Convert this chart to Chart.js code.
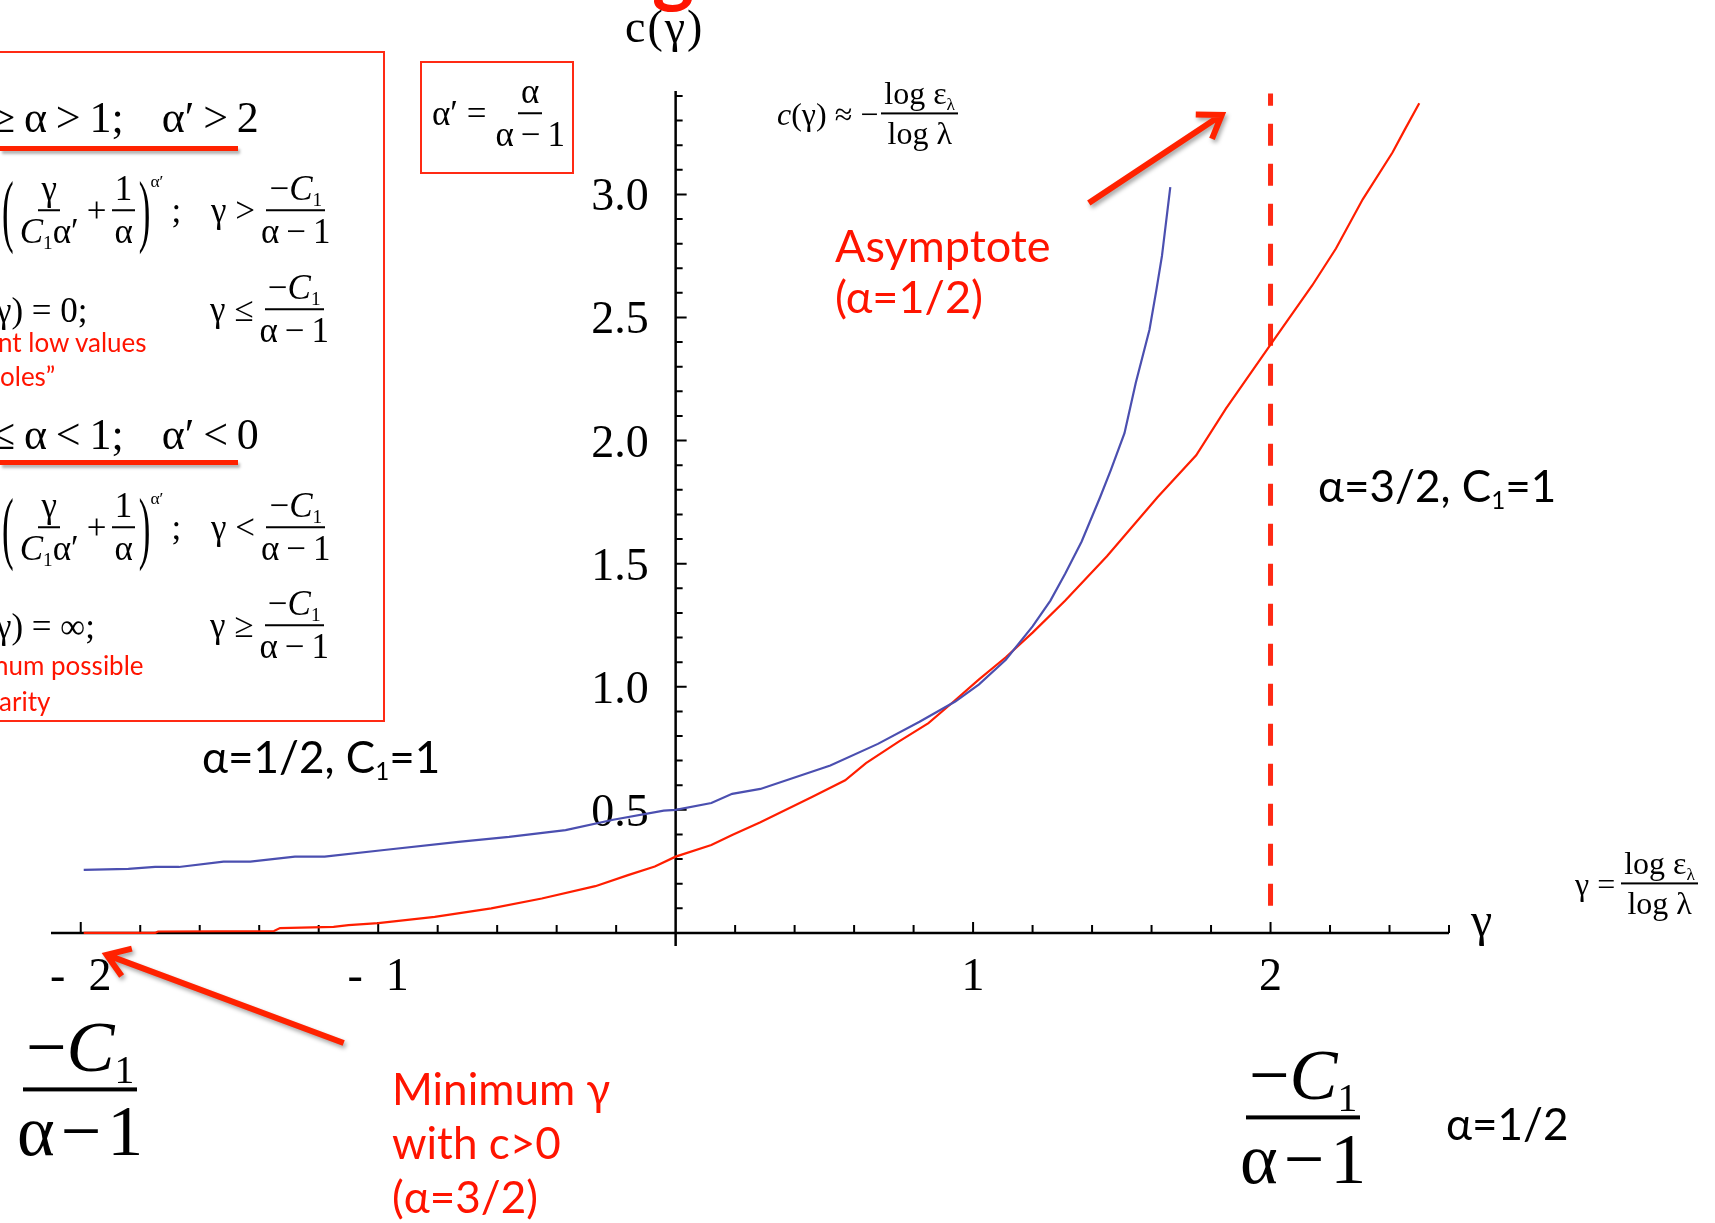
<!DOCTYPE html>
<html>
<head>
<meta charset="utf-8">
<script src="https://cdn.jsdelivr.net/npm/chart.js@4.4.1/dist/chart.umd.min.js"></script>
<style>
  body { margin: 0; background: #fff; overflow: hidden; }
  #wrap { position: relative; width: 1715px; height: 1223px; overflow: hidden; background: #fff; }
  #cgChart { position: absolute; left: 0; top: 0; }
  .t { position: absolute; white-space: nowrap; line-height: 1; }
  .serif { font-family: "Liberation Serif", "Times New Roman", serif; }
  .sans { font-family: Lato, "Open Sans", sans-serif; }
  .red { color: #ff1400; }
  .m { position: absolute; display: flex; align-items: center; transform: translateY(-50%);
       white-space: nowrap; line-height: 1; font-family: "Liberation Serif", "Times New Roman", serif; }
  .frac { display: inline-flex; flex-direction: column; align-items: center; margin: 0 3px; }
  .frac .n { border-bottom: 2px solid #000; padding: 0 3px 1px; line-height: 1.05; }
  .frac .d { padding: 3px 3px 0; line-height: 1.05; }
  .big .n { border-bottom-width: 4px; }
  .bp { display: inline-block; transform: scaleY(2.3); }
  .sup { align-self: flex-start; font-size: 0.5em; margin-top: 2px; }
  sub { font-size: 0.55em; vertical-align: -0.3em; line-height: 0; }
  .gap { display: inline-block; width: 38px; }
  .box { position: absolute; border: 2px solid #ff2a14; }
  .bar { position: absolute; height: 5px; background: #ff2200; box-shadow: 2px 3px 3px rgba(0,0,0,0.3); }
</style>
</head>
<body>
<div id="wrap">
  <canvas id="cgChart" width="1715" height="1223"></canvas>

  <!-- cut-off title glyph and vertical axis title -->
  <div class="t sans red" style="left:652px;top:-74px;font-size:80px;font-weight:bold">g</div>
  <div class="t serif" style="left:625px;top:4px;font-size:46px;letter-spacing:2px">c(γ)</div>

  <!-- left box with the two regimes -->
  <div class="box" style="left:-10px;top:51px;width:391px;height:667px"></div>
  <div class="t serif" style="left:-9px;top:96px;font-size:44px">≥&thinsp;α&thinsp;&gt;&thinsp;1;<span class="gap"></span>α′&thinsp;&gt;&thinsp;2</div>
  <div class="bar" style="left:0;top:146px;width:238px"></div>

  <div class="m" style="left:2px;top:211px;font-size:35px">
    <span class="bp">(</span>
    <span class="frac"><span class="n">γ</span><span class="d"><i>C</i><sub>1</sub>α′</span></span>
    <span style="margin:0 2px">+</span>
    <span class="frac"><span class="n">1</span><span class="d">α</span></span>
    <span class="bp">)</span>
    <span class="sup">α′</span>
    <span style="margin-left:8px">;</span>
  </div>
  <div class="m" style="left:211px;top:211px;font-size:35px">γ&nbsp;&gt;<span class="frac"><span class="n">−<i>C</i><sub>1</sub></span><span class="d">α&thinsp;−&thinsp;1</span></span></div>

  <div class="m" style="left:-4px;top:310px;font-size:35px">γ) = 0;</div>
  <div class="m" style="left:210px;top:310px;font-size:35px">γ&nbsp;≤<span class="frac"><span class="n">−<i>C</i><sub>1</sub></span><span class="d">α&thinsp;−&thinsp;1</span></span></div>
  <div class="t sans red" style="left:-2px;top:329px;font-size:26px">nt low values</div>
  <div class="t sans red" style="left:0;top:363px;font-size:26px">oles”</div>

  <div class="t serif" style="left:-9px;top:413px;font-size:44px">≤&thinsp;α&thinsp;&lt;&thinsp;1;<span class="gap"></span>α′&thinsp;&lt;&thinsp;0</div>
  <div class="bar" style="left:0;top:460px;width:238px"></div>

  <div class="m" style="left:2px;top:528px;font-size:35px">
    <span class="bp">(</span>
    <span class="frac"><span class="n">γ</span><span class="d"><i>C</i><sub>1</sub>α′</span></span>
    <span style="margin:0 2px">+</span>
    <span class="frac"><span class="n">1</span><span class="d">α</span></span>
    <span class="bp">)</span>
    <span class="sup">α′</span>
    <span style="margin-left:8px">;</span>
  </div>
  <div class="m" style="left:211px;top:528px;font-size:35px">γ&nbsp;&lt;<span class="frac"><span class="n">−<i>C</i><sub>1</sub></span><span class="d">α&thinsp;−&thinsp;1</span></span></div>

  <div class="m" style="left:-4px;top:626px;font-size:35px">γ) = ∞;</div>
  <div class="m" style="left:210px;top:626px;font-size:35px">γ&nbsp;≥<span class="frac"><span class="n">−<i>C</i><sub>1</sub></span><span class="d">α&thinsp;−&thinsp;1</span></span></div>
  <div class="t sans red" style="left:-6px;top:652px;font-size:26px">num possible</div>
  <div class="t sans red" style="left:-1px;top:688px;font-size:26px">arity</div>

  <!-- alpha prime definition -->
  <div class="box" style="left:420px;top:61px;width:150px;height:109px"></div>
  <div class="m" style="left:432px;top:114px;font-size:35px">α′ =<span class="frac" style="margin-left:6px"><span class="n">α</span><span class="d">α&thinsp;−&thinsp;1</span></span></div>

  <div class="m" style="left:777px;top:114px;font-size:32px"><i>c</i>(γ) ≈ −<span class="frac"><span class="n">log ε<sub>λ</sub></span><span class="d">log λ</span></span></div>

  <div class="t sans red" style="left:835px;top:223px;font-size:45px">Asymptote</div>
  <div class="t sans red" style="left:835px;top:274px;font-size:45px">(α=1/2)</div>

  <div class="t sans" style="left:1318px;top:463px;font-size:44px">α=3/2, C<sub>1</sub>=1</div>
  <div class="t sans" style="left:202px;top:734px;font-size:44px">α=1/2, C<sub>1</sub>=1</div>

  <div class="t serif" style="left:1471px;top:896px;font-size:48px">γ</div>
  <div class="m" style="left:1575px;top:884px;font-size:32px">γ =<span class="frac" style="margin-left:6px"><span class="n">log ε<sub>λ</sub></span><span class="d">log λ</span></span></div>

  <!-- bottom annotations -->
  <div class="m" style="left:11px;top:1090px;font-size:72px"><span class="frac big"><span class="n">−<i>C</i><sub>1</sub></span><span class="d">α&#8202;−&#8202;1</span></span></div>
  <div class="t sans red" style="left:392px;top:1061px;font-size:44px;line-height:54px">Minimum γ<br>with c&gt;0<br>(α=3/2)</div>

  <div class="m" style="left:1234px;top:1118px;font-size:72px"><span class="frac big"><span class="n">−<i>C</i><sub>1</sub></span><span class="d">α&#8202;−&#8202;1</span></span></div>
  <div class="t sans" style="left:1446px;top:1101px;font-size:44px">α=1/2</div>
</div>

<script>
// c(gamma) curves
const blueGamma = [-1.99, -1.84, -1.75, -1.67, -1.52, -1.43, -1.28, -1.18, -0.98, -0.73, -0.56, -0.37, -0.21, -0.04, 0,
  0.12, 0.19, 0.285, 0.52, 0.68, 0.82, 0.94, 1.02, 1.11, 1.2, 1.26, 1.31, 1.365, 1.427, 1.463, 1.509, 1.547, 1.593, 1.616, 1.635, 1.663];
const blueC = [0.256, 0.26, 0.268, 0.268, 0.29, 0.29, 0.31, 0.31, 0.337, 0.37, 0.39, 0.418, 0.46, 0.497, 0.5,
  0.528, 0.565, 0.585, 0.68, 0.768, 0.858, 0.94, 1.01, 1.11, 1.245, 1.35, 1.46, 1.59, 1.77, 1.88, 2.03, 2.235, 2.45, 2.61, 2.75, 3.03];

const redGamma = [-1.99, -1.75, -1.74, -1.35, -1.33, -1.15, -1.1, -1.0, -0.81, -0.62, -0.45, -0.27, -0.16, -0.07, 0,
  0.12, 0.19, 0.285, 0.46, 0.57, 0.64, 0.75, 0.85, 0.93, 1.02, 1.11, 1.2, 1.31, 1.45, 1.62, 1.75, 1.85, 2.0, 2.14, 2.22, 2.31, 2.41, 2.45, 2.5];
const redC = [0, 0, 0.006, 0.008, 0.02, 0.025, 0.032, 0.04, 0.065, 0.1, 0.14, 0.19, 0.235, 0.27, 0.31,
  0.357, 0.398, 0.45, 0.553, 0.62, 0.69, 0.777, 0.852, 0.935, 1.03, 1.12, 1.22, 1.35, 1.53, 1.77, 1.94, 2.13, 2.39, 2.63, 2.78, 2.98, 3.17, 3.26, 3.37];

// dashed asymptote at gamma = 2
const asymptoteGamma = [2, 2];
const asymptoteC = [0.11, 3.41];

// annotation arrows (tail -> head), in data units
const arrowFromGamma = [1.389, -1.116];
const arrowFromC = [2.965, -0.447];
const arrowToGamma = [1.836, -1.913];
const arrowToC = [3.323, -0.089];

// axis ticks
const xTickValues = [-2, -1, 1, 2];
const xTickLabels = ['-  2', '-  1', '1', '2'];
const yTickValues = [0.5, 1, 1.5, 2, 2.5, 3];
const yTickLabels = ['0.5', '1.0', '1.5', '2.0', '2.5', '3.0'];

const toPoints = (xs, ys) => xs.map((v, i) => ({ x: v, y: ys[i] }));

// axes crossing at the origin, ticks pointing inward
const crossAxes = {
    id: 'crossAxes',
    beforeDatasetsDraw(chart) {
        const { ctx } = chart;
        const x = chart.scales.x, y = chart.scales.y;
        const x0 = x.getPixelForValue(0), y0 = y.getPixelForValue(0);
        ctx.save();
        ctx.strokeStyle = '#000';
        ctx.lineWidth = 2.5;
        ctx.beginPath();
        ctx.moveTo(x.left, y0); ctx.lineTo(x.right, y0);
        ctx.moveTo(x0, y.top); ctx.lineTo(x0, y.bottom);
        ctx.stroke();

        ctx.lineWidth = 2;
        ctx.beginPath();
        for (let i = -10; i <= 13; i++) {
            if (i === 0) continue;
            const v = i / 5;
            const px = x.getPixelForValue(v);
            const len = Number.isInteger(v) ? 11 : 8;
            ctx.moveTo(px, y0); ctx.lineTo(px, y0 - len);
        }
        for (let i = 1; i <= 34; i++) {
            const py = y.getPixelForValue(i / 10);
            const len = i % 5 === 0 ? 11 : 7;
            ctx.moveTo(x0, py); ctx.lineTo(x0 + len, py);
        }
        ctx.stroke();

        ctx.fillStyle = '#000';
        ctx.font = '46px "Liberation Serif", serif';
        ctx.textBaseline = 'alphabetic';
        ctx.textAlign = 'center';
        xTickValues.forEach((v, i) => {
            ctx.fillText(xTickLabels[i], x.getPixelForValue(v), y0 + 57);
        });
        ctx.textAlign = 'right';
        yTickValues.forEach((v, i) => {
            ctx.fillText(yTickLabels[i], x0 - 27, y.getPixelForValue(v) + 16);
        });
        ctx.restore();
    }
};

const arrows = {
    id: 'arrows',
    afterDatasetsDraw(chart) {
        const { ctx } = chart;
        const x = chart.scales.x, y = chart.scales.y;
        ctx.save();
        ctx.strokeStyle = '#ff2200';
        ctx.lineWidth = 6;
        ctx.shadowColor = 'rgba(0,0,0,0.35)';
        ctx.shadowBlur = 4;
        ctx.shadowOffsetX = 2;
        ctx.shadowOffsetY = 3;
        arrowFromGamma.forEach((g, i) => {
            const x1 = x.getPixelForValue(g), y1 = y.getPixelForValue(arrowFromC[i]);
            const x2 = x.getPixelForValue(arrowToGamma[i]), y2 = y.getPixelForValue(arrowToC[i]);
            const ang = Math.atan2(y2 - y1, x2 - x1);
            const head = 26;
            ctx.beginPath();
            ctx.moveTo(x1, y1); ctx.lineTo(x2 - 3 * Math.cos(ang), y2 - 3 * Math.sin(ang));
            ctx.moveTo(x2 - head * Math.cos(ang - 0.6), y2 - head * Math.sin(ang - 0.6));
            ctx.lineTo(x2, y2);
            ctx.lineTo(x2 - head * Math.cos(ang + 0.6), y2 - head * Math.sin(ang + 0.6));
            ctx.stroke();
        });
        ctx.restore();
    }
};

new Chart(document.getElementById('cgChart'), {
    type: 'line',
    data: {
        datasets: [
            { label: 'α=1/2', data: toPoints(blueGamma, blueC), borderColor: '#4b4fb0', borderWidth: 2.2 },
            { label: 'α=3/2', data: toPoints(redGamma, redC), borderColor: '#ff1e00', borderWidth: 2.2 },
            { label: 'asymptote', data: toPoints(asymptoteGamma, asymptoteC), borderColor: '#ff2a14',
              borderWidth: 5, borderDash: [22, 18] }
        ]
    },
    options: {
        responsive: false,
        animation: false,
        devicePixelRatio: 1,
        layout: { padding: { left: 51, right: 266, top: 91, bottom: 277 } },
        elements: { point: { radius: 0 }, line: { tension: 0, fill: false } },
        scales: {
            x: { type: 'linear', min: -2.1, max: 2.6, display: false },
            y: { type: 'linear', min: -0.053, max: 3.42, display: false }
        },
        plugins: { legend: { display: false }, tooltip: { enabled: false } }
    },
    plugins: [crossAxes, arrows]
});
</script>
</body>
</html>
